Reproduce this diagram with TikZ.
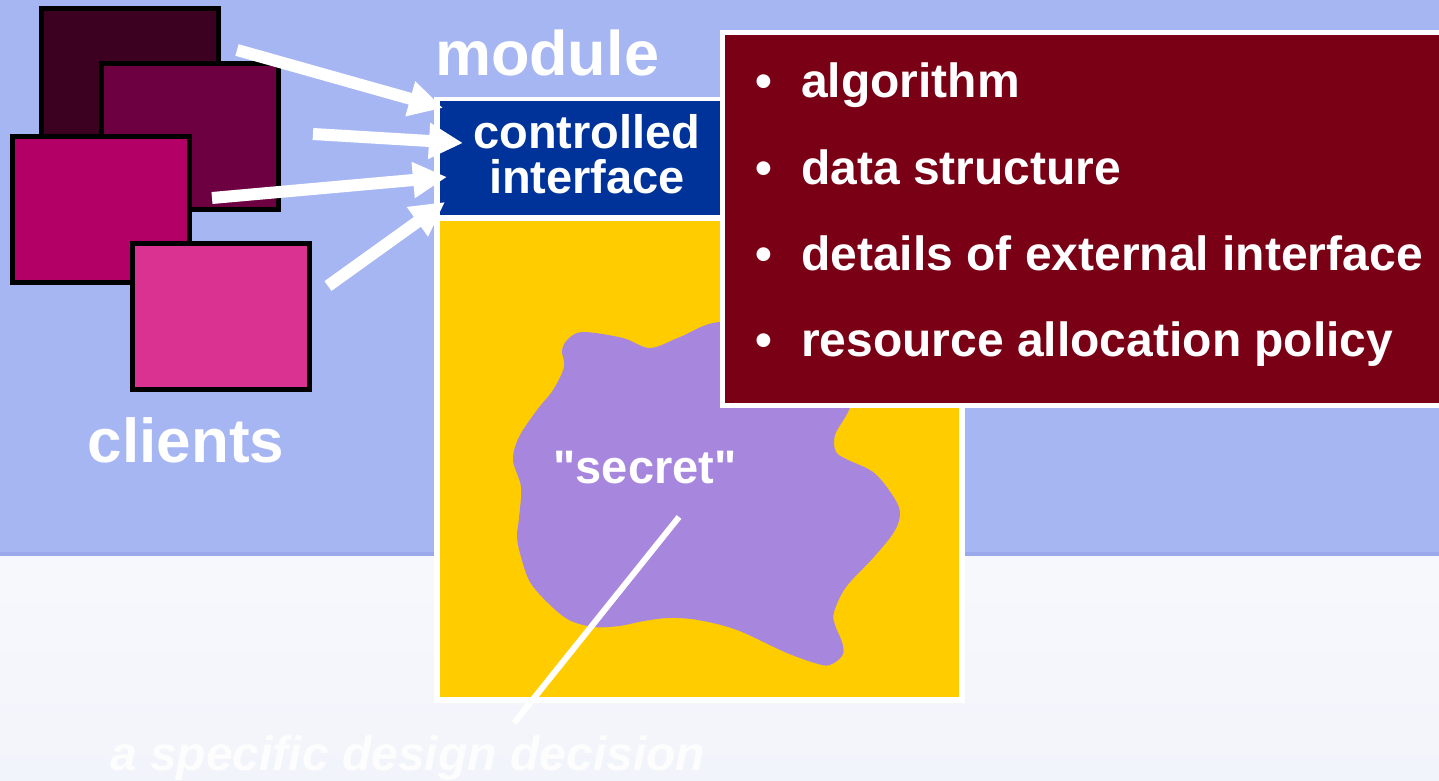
\documentclass[tikz,border=0pt]{standalone}
\usepackage{fontspec}
\setmainfont{Liberation Sans}
\usetikzlibrary{arrows.meta, positioning}

\definecolor{skyblue}{RGB}{166,182,243}
\definecolor{paleband}{RGB}{242,244,251}
\definecolor{clientA}{RGB}{60,0,32}
\definecolor{clientB}{RGB}{108,0,64}
\definecolor{clientC}{RGB}{179,0,102}
\definecolor{clientD}{RGB}{217,50,144}
\definecolor{ifaceblue}{RGB}{0,51,153}
\definecolor{bodyyellow}{RGB}{255,204,0}
\definecolor{secretlilac}{RGB}{167,134,222}
\definecolor{hiddenred}{RGB}{122,0,22}

\begin{document}
\begin{tikzpicture}[x=1pt, y=-1pt,
	clientbox/.style = {shape=rectangle, draw=black, line width=5pt, outer sep=0pt,
		minimum width=177pt, minimum height=146pt},
	whitetext/.style = {text=white, inner sep=0pt, anchor=base},
	bulletitem/.style = {whitetext, anchor=base west,
		font=\bfseries\fontsize{48}{54}\selectfont},
	callarrow/.style = {draw=white, line width=12pt,
		-{Triangle[length=34pt, width=34pt]}}]
	\useasboundingbox (0,0) rectangle (1439,781);
	% background
	\fill[skyblue] (0,0) rectangle (1439,556);
	\fill[skyblue!85!blue!90!black, opacity=0.3] (0,552) rectangle (1439,556);
	\shade[top color=paleband!60!white, bottom color=paleband] (0,556) rectangle (1439,781);

	% the module
	\node[fill=white, anchor=north west, outer sep=0pt, inner sep=0pt,
		minimum width=531pt, minimum height=606pt] (module) at (434,97) {};
	\node[fill=bodyyellow, anchor=north west, outer sep=0pt, inner sep=0pt,
		minimum width=519pt, minimum height=476pt] (body) at (440,221) {};
	\fill[secretlilac] plot[smooth cycle, tension=0.55] coordinates {
		(584,332) (623,338) (650,348) (680,337) (720,322) (790,330) (850,392)
		(835,435) (836,452) (846,459) (873,472) (891,493) (900,512) (894,532)
		(873,558) (846,587) (834,612) (835,625) (842,642) (843,654) (834,663)
		(822,665) (787,653) (737,630) (698,620) (669,618) (644,621) (619,626)
		(594,627) (569,620) (548,603) (530,582) (521,557) (517,537) (519,518)
		(521,487) (513,460) (519,437) (537,410) (553,390) (564,367) (562,350)
		(569,338)};
	\node[fill=ifaceblue, anchor=north west, outer sep=0pt, inner sep=0pt,
		minimum width=280pt, minimum height=114pt] (iface) at (440,101) {};
	\node[whitetext, align=center, font=\bfseries\fontsize{47}{45}\selectfont]
		(ifacetext) at (587,193) {controlled\\interface};
	\node[whitetext, font=\bfseries\fontsize{63}{70}\selectfont] (modname) at (547,76) {module};
	\node[whitetext, font=\bfseries\fontsize{47}{54}\selectfont] (secret) at (645,483)
		{\textquotedbl secret\textquotedbl};

	% what is hidden
	\node[draw=white, line width=5pt, fill=hiddenred, anchor=north west, outer sep=0pt,
		minimum width=730pt, minimum height=373pt] (hidden) at (722,32.5) {};
	\node[bulletitem] (alg) at (755,98) {\makebox[46pt][l]{•}algorithm};
	\node[bulletitem] (data) at (755,184) {\makebox[46pt][l]{•}data structure};
	\node[bulletitem] (ext) at (755,270) {\makebox[46pt][l]{•}details of external interface};
	\node[bulletitem] (res) at (755,356) {\makebox[46pt][l]{•}resource allocation policy};

	% clients
	\node[clientbox, fill=clientA] (cA) at (130,81.5) {};
	\node[clientbox, fill=clientB] (cB) at (190,136.5) {};
	\node[clientbox, fill=clientC] (cC) at (100.5,209.5) {};
	\node[clientbox, fill=clientD] (cD) at (220.5,316) {};
	\node[whitetext, font=\bfseries\fontsize{62}{70}\selectfont] (clients) at (186,462) {clients};

	% calls into the interface
	\coordinate (fromA) at (237,50);
	\coordinate (fromB) at (313,134);
	\coordinate (fromC) at (212,198);
	\coordinate (fromD) at (328,286);
	\coordinate (toA) at (443,108);
	\coordinate (toB) at (463,143);
	\coordinate (toC) at (447,177);
	\coordinate (toD) at (445,202);
	\draw[callarrow] (fromA) -- (toA);
	\draw[callarrow] (fromB) -- (toB);
	\draw[callarrow] (fromC) -- (toC);
	\draw[callarrow] (fromD) -- (toD);

	% the decision
	\node[whitetext, anchor=base west, opacity=0.85,
		font=\bfseries\itshape\fontsize{48}{54}\selectfont] (decision) at (110,770)
		{a specific design decision};
	\coordinate (pin) at (679,517);
	\coordinate (pinfoot) at (514,723);
	\draw[white, line width=6pt] (pin) -- (pinfoot);
\end{tikzpicture}
\end{document}
